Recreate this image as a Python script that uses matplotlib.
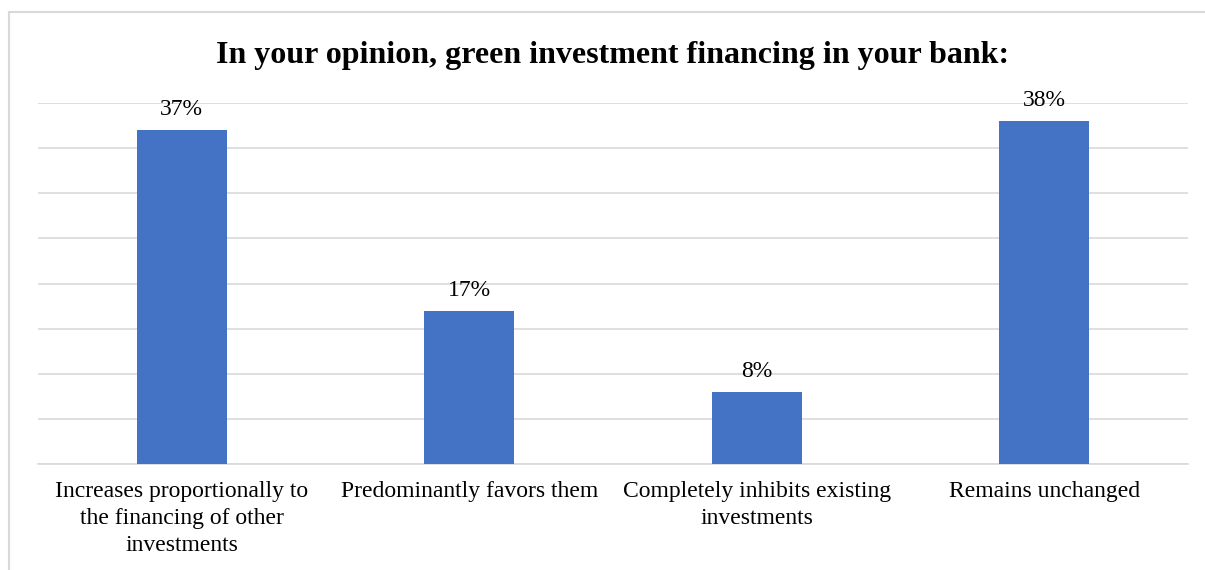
import matplotlib.pyplot as plt
from matplotlib.lines import Line2D

categories = [
    "Increases proportionally to\nthe financing of other\ninvestments",
    "Predominantly favors them",
    "Completely inhibits existing\ninvestments",
    "Remains unchanged",
]
shares = [37, 17, 8, 38]
title = "In your opinion, green investment financing in your bank:"

plt.rcParams["font.family"] = ["Liberation Serif", "DejaVu Serif"]

W, H = 1205, 570
fig = plt.figure(figsize=(W / 100, H / 100), dpi=100)
ax = fig.add_axes([38 / W, 1 - 464 / H, (1188 - 38) / W, (464 - 103) / H])

x = range(len(categories))
ax.bar(x, shares, width=0.313, color="#4472C4", zorder=3)
for xi, v in zip(x, shares):
    ax.annotate(f"{v}%", (xi, v), xytext=(0, 7), textcoords="offset points",
                ha="center", va="bottom", fontsize=17, color="#000000")

ax.set_xlim(-0.5, len(categories) - 0.5)
ax.set_ylim(0, 40)
ax.set_yticks(range(0, 41, 5))
ax.yaxis.grid(True, color="#D9D9D9", linewidth=1.2, zorder=0)
ax.tick_params(axis="y", length=0, labelleft=False)
ax.set_xticks(list(x))
ax.set_xticklabels(categories, fontsize=17, linespacing=1.4)
ax.tick_params(axis="x", length=0, pad=12)
for s in ["top", "right", "left"]:
    ax.spines[s].set_visible(False)
ax.spines["bottom"].set_color("#D9D9D9")
ax.spines["bottom"].set_linewidth(1.2)

fig.text(613 / W, 1 - 55 / H, title, ha="center", va="center",
         fontsize=23, fontweight="bold")

# chart frame (left and top edges)
fig.add_artist(Line2D([9 / W, 9 / W], [0, 1 - 12 / H], color="#D9D9D9", linewidth=1.5))
fig.add_artist(Line2D([9 / W, 1], [1 - 12 / H, 1 - 12 / H], color="#D9D9D9", linewidth=1.5))

fig.savefig("out.png", dpi=100)
